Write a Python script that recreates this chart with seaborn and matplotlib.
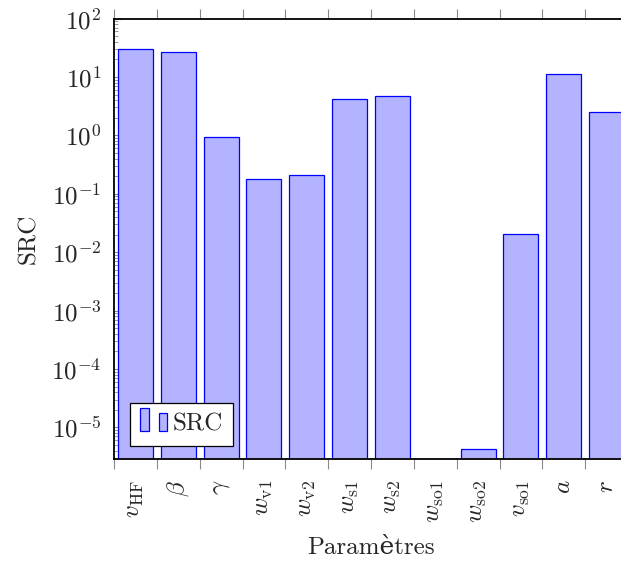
import matplotlib
matplotlib.use("Agg")
import matplotlib.pyplot as plt
import seaborn as sns
from matplotlib.patches import Rectangle
from matplotlib.container import BarContainer
from matplotlib.legend_handler import HandlerBase
from matplotlib.ticker import FixedLocator

# données
parametres = [r"$v_{\mathrm{HF}}$", r"$\beta$", r"$\gamma$", r"$w_{\mathrm{v1}}$", r"$w_{\mathrm{v2}}$",
              r"$w_{\mathrm{s1}}$", r"$w_{\mathrm{s2}}$", r"$w_{\mathrm{so1}}$", r"$w_{\mathrm{so2}}$",
              r"$v_{\mathrm{so1}}$", r"$a$", r"$r$"]
src = [29.7, 26.7, 0.92, 0.176, 0.206, 4.13, 4.71, 1e-7, 4.2e-6, 0.0202, 11.2, 2.51]

sns.set_style("white")
plt.rcParams["font.family"] = ["cmr10", "DejaVu Serif"]
plt.rcParams["mathtext.fontset"] = "cm"
plt.rcParams["axes.formatter.use_mathtext"] = True
plt.rcParams["font.size"] = 18


# symbole de légende façon pgfplots (deux barres)
class DeuxBarres(HandlerBase):
    def create_artists(self, legend, orig_handle, xdescent, ydescent, width, height, fontsize, trans):
        w = width * 0.32
        r1 = Rectangle((-xdescent, -ydescent), w, height * 1.3, facecolor="#b3b3ff",
                       edgecolor="blue", lw=0.9, transform=trans)
        r2 = Rectangle((-xdescent + width - w, -ydescent), w, height, facecolor="#b3b3ff",
                       edgecolor="blue", lw=0.9, transform=trans)
        return [r1, r2]


fig = plt.figure(figsize=(6.21, 5.70), dpi=100)
ax = fig.add_axes([0.1836, 0.1947, 0.8277, 0.7728])
ax.set_yscale("log")

sns.barplot(x=parametres, y=src, order=parametres, color="#b3b3ff", saturation=1,
            edgecolor="blue", linewidth=0.9, width=0.82, label="SRC", ax=ax)

ax.set_xlim(-0.5, len(parametres) - 0.5)
ax.set_ylim(2.88e-6, 100)

for s in ax.spines.values():
    s.set_linewidth(1.3)
    s.set_color("black")

# ticks x : marques entre les barres, étiquettes au centre
ax.xaxis.set_minor_locator(FixedLocator([i - 0.5 for i in range(len(parametres) + 1)]))
ax.tick_params(axis="x", which="minor", direction="out", length=7, width=0.8,
               color="#888888", top=True, bottom=True)
ax.tick_params(axis="x", which="major", length=0, pad=15, labelrotation=90)
ax.tick_params(axis="y", which="major", direction="in", length=5, width=0.8,
               color="#888888", left=True, right=True, pad=9)
ax.tick_params(axis="y", which="minor", direction="in", length=3, width=0.6,
               color="#888888", left=True, right=True)

ax.set_xlabel("Paramètres", labelpad=10)
ax.set_ylabel("SRC", labelpad=8)

handles, labels = ax.get_legend_handles_labels()
ax.legend(handles, labels, handler_map={BarContainer: DeuxBarres(), Rectangle: DeuxBarres()},
          loc="lower left", bbox_to_anchor=(0.031, 0.03),
          borderaxespad=0, fancybox=False, edgecolor="black", framealpha=1,
          handlelength=1.1, handletextpad=0.2, borderpad=0.4)
ax.get_legend().get_frame().set_linewidth(0.9)

plt.savefig("out.png", dpi=100)
